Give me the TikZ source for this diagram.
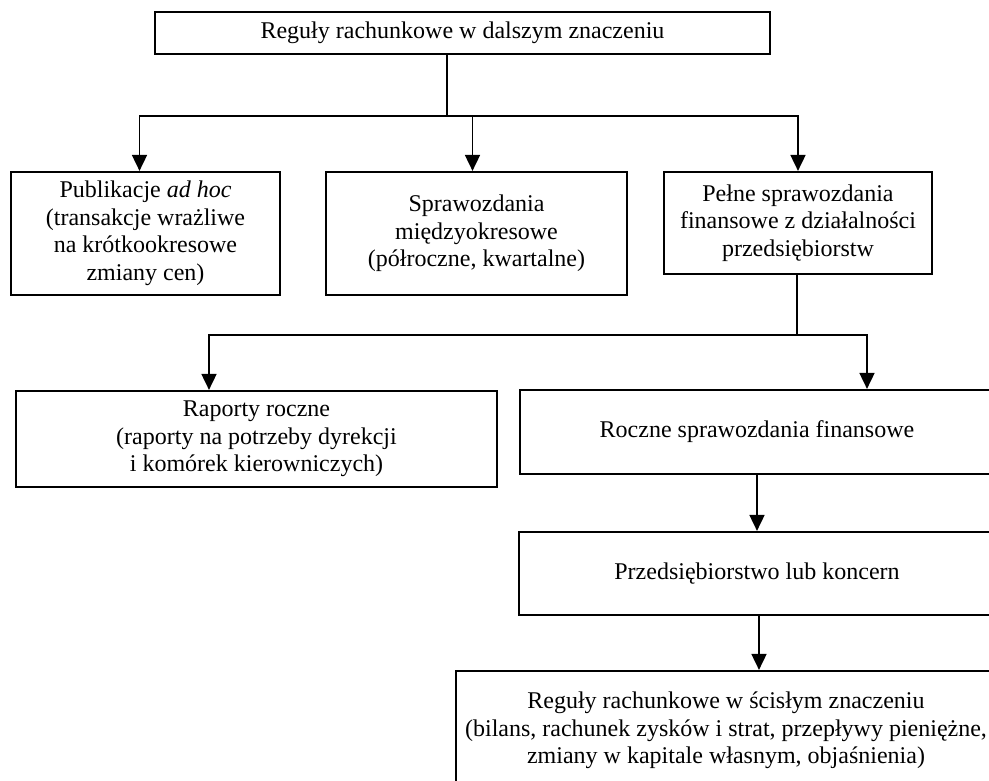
\documentclass[tikz,border=0pt]{standalone}
\usepackage{fontspec}
\setmainfont{Liberation Serif}
\usetikzlibrary{arrows.meta}

\tikzset{
  box/.style={draw, line width=2.2pt, align=center, inner sep=0pt,
    font=\fontsize{24}{27.5}\selectfont},
  arrow/.style={line width=1.8pt, -{Triangle[length=16pt,width=15pt]}},
  link/.style={line width=1.8pt}
}

\begin{document}
\begin{tikzpicture}[x=1pt,y=-1pt]
    \useasboundingbox (0,0) rectangle (989,781);
    \clip (0,0) rectangle (989,781);

    % Draw the top box
    \node[box, minimum width=615pt, minimum height=42pt] (top) at (462.5,33)
      {Reguły rachunkowe w dalszym znaczeniu};
    % Draw the second row
    \node[box, minimum width=269pt, minimum height=123pt] (pub) at (145.5,233.5)
      {Publikacje \textit{ad hoc}\\(transakcje wrażliwe\\na krótkookresowe\\zmiany cen)};
    \node[box, minimum width=301pt, minimum height=123pt] (mid) at (476.5,233.5)
      {Sprawozdania\\międzyokresowe\\(półroczne, kwartalne)};
    \node[box, minimum width=268pt, minimum height=102pt] (full) at (798,223)
      {Pełne sprawozdania\\finansowe z działalności\\przedsiębiorstw};
    % Draw the third row
    \node[box, minimum width=481pt, minimum height=96pt] (raport) at (256.5,439)
      {Raporty roczne\\(raporty na potrzeby dyrekcji\\i komórek kierowniczych)};
    \node[box, minimum width=474pt, minimum height=84pt] (roczne) at (757,432)
      {Roczne sprawozdania finansowe};
    % Draw the chain at the right
    \node[box, minimum width=476pt, minimum height=83pt] (firma) at (757,573.5)
      {Przedsiębiorstwo lub koncern};
    \node[box, minimum width=540pt, minimum height=119pt] (wasko) at (726,730.5)
      {Reguły rachunkowe w ścisłym znaczeniu\\(bilans, rachunek zysków i strat, przepływy pieniężne,\\zmiany w kapitale własnym, objaśnienia)};

    % Connect the top box to the second row
    \coordinate (split1) at (447,116);
    \draw[link] (top.south -| split1) -- (split1);
    \draw[arrow] (split1) -| ([xshift=-6pt]pub.north);
    \draw[arrow] (split1) -| (full.north);
    \draw[arrow] ([xshift=-4pt]split1 -| mid.north) -- ([xshift=-4pt]mid.north);
    % Connect the full statements to the third row
    \coordinate (split2) at (797,335);
    \draw[link] (full.south -| split2) -- (split2);
    \draw[arrow] (split2) -| ([xshift=-47.5pt]raport.north);
    \draw[arrow] (split2) -| ([xshift=110pt]roczne.north);
    % Connect the chain
    \draw[arrow] (roczne.south) -- (firma.north);
    \draw[arrow] ([xshift=2pt]firma.south) -- ([xshift=2pt]firma.south |- wasko.north);
  \end{tikzpicture}
\end{document}
